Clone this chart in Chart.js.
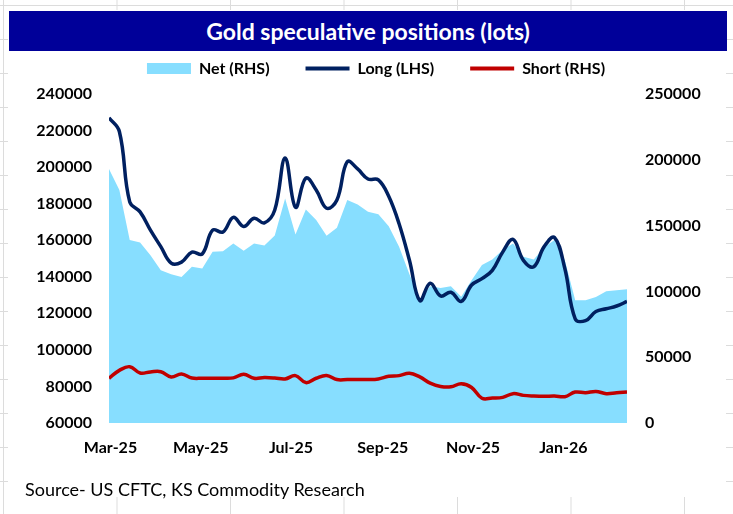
<!DOCTYPE html>
<html>
<head>
<meta charset="utf-8">
<script src="https://cdn.jsdelivr.net/npm/chart.js@4.4.1/dist/chart.umd.min.js"></script>
<style>
  html, body { margin: 0; padding: 0; }
  body {
    width: 733px; height: 514px; position: relative; overflow: hidden;
    background-color: #fff;
    background-image: linear-gradient(to right, #dcdcdc 1px, transparent 1px),
                      linear-gradient(to bottom, #dcdcdc 1px, transparent 1px);
    background-size: 113.5px 34px;
    background-position: 3px 5px;
  }
  #frame { position: absolute; left: 8px; top: 10px; width: 718px; height: 487px; background: #fff; }
  #wrap { position: absolute; left: 0; top: 0; width: 733px; height: 514px; }
  #banner {
    position: absolute; left: 9px; top: 11px; width: 718px; height: 40px;
    background: #000099; color: #fff; font: bold 23px Lato, sans-serif;
    display: flex; align-items: center; justify-content: center; z-index: 2;
  }
  #source { position: absolute; left: 25px; top: 478px; font: 18px Lato, sans-serif; color: #000; }
</style>
</head>
<body>
<div id="frame"></div>
<div id="wrap"><canvas id="goldChart" width="733" height="514"></canvas></div>
<div id="banner">Gold speculative positions (lots)</div>
<div id="source">Source- US CFTC, KS Commodity Research</div>
<script>
// weekly report dates
const dates = [
  '2025-02-28','2025-03-07','2025-03-14','2025-03-21','2025-03-28','2025-04-04','2025-04-11',
  '2025-04-18','2025-04-25','2025-05-02','2025-05-09','2025-05-16','2025-05-23','2025-05-30',
  '2025-06-06','2025-06-13','2025-06-20','2025-06-27','2025-07-04','2025-07-11','2025-07-18',
  '2025-07-25','2025-08-01','2025-08-08','2025-08-15','2025-08-22','2025-08-29','2025-09-05',
  '2025-09-12','2025-09-19','2025-09-26','2025-10-03','2025-10-10','2025-10-17','2025-10-24',
  '2025-10-31','2025-11-07','2025-11-14','2025-11-21','2025-11-28','2025-12-05','2025-12-12',
  '2025-12-19','2025-12-26','2026-01-02','2026-01-09','2026-01-16','2026-01-23','2026-01-30',
  '2026-02-06','2026-02-13'
];

// Net (RHS)
const netPos = [
  193000, 177000, 139000, 137200, 127500, 116100, 113100, 111000, 118700, 117400,
  130100, 130600, 136400, 130800, 136400, 134900, 142500, 170600, 143300, 162300,
  154200, 142200, 148300, 169400, 166000, 160500, 158700, 149600, 133900, 113000,
  93500, 104000, 102500, 104000, 96000, 108500, 120000, 124300, 131500, 136400,
  126300, 124300, 133500, 139000, 123700, 93300, 93300, 95800, 100200, 100900, 101700
];

// Long (LHS)
const longPos = [
  227000, 219500, 181000, 175500, 165500, 156500, 147500, 148000, 153500, 152500,
  165500, 164500, 172500, 167500, 172000, 169500, 176500, 205000, 178000, 194000,
  187500, 177500, 182000, 203000, 199000, 193500, 193000, 184000, 169000, 149000,
  127000, 136500, 129500, 131500, 126500, 135500, 139000, 143500, 153500, 160500,
  149000, 145500, 156500, 161500, 144500, 117000, 116000, 121000, 122500, 124000, 126500
];

// Short (RHS)
const shortPos = [
  34000, 40000, 42800, 38000, 38800, 39000, 35000, 37300, 34200, 34000,
  34000, 34000, 34300, 37000, 34000, 34500, 34200, 33500, 36000, 30700,
  34000, 36100, 33000, 33000, 33000, 33000, 33500, 35500, 36000, 37800,
  35000, 30300, 27800, 27500, 29800, 27000, 18800, 19000, 19500, 22300,
  21000, 20500, 20300, 20500, 20000, 23500, 23000, 24000, 22300, 23000, 23500
];

const tickDates = ['2025-03-01','2025-05-01','2025-07-01','2025-09-01','2025-11-01','2026-01-01'];
const tickLabels = ['Mar-25','May-25','Jul-25','Sep-25','Nov-25','Jan-26'];
const leftTicks = [60000, 80000, 100000, 120000, 140000, 160000, 180000, 200000, 220000, 240000];
const rightTicks = [0, 50000, 100000, 150000, 200000, 250000];

const NET_COLOR = '#87DEFF';
const LONG_COLOR = '#002060';
const SHORT_COLOR = '#C00000';

const day = d => (Date.parse(d) - Date.parse('2025-03-01')) / 86400000;
const pts = vals => dates.map((d, i) => ({ x: day(d), y: vals[i] }));
const tickFont = { family: 'Lato', size: 16, weight: 'bold' };

new Chart(document.getElementById('goldChart'), {
  type: 'line',
  data: {
    datasets: [
      {
        label: 'Net (RHS)',
        data: pts(netPos),
        yAxisID: 'y1',
        backgroundColor: NET_COLOR,
        borderColor: NET_COLOR,
        borderWidth: 0,
        fill: 'origin',
        tension: 0,
        order: 3
      },
      {
        label: 'Long (LHS)',
        data: pts(longPos),
        yAxisID: 'y',
        borderColor: LONG_COLOR,
        borderWidth: 3.5,
        fill: false,
        tension: 0.4,
        order: 1
      },
      {
        label: 'Short (RHS)',
        data: pts(shortPos),
        yAxisID: 'y1',
        borderColor: SHORT_COLOR,
        borderWidth: 3.5,
        fill: false,
        tension: 0.4,
        order: 2
      }
    ]
  },
  options: {
    responsive: false,
    animation: false,
    elements: { point: { radius: 0 } },
    layout: { padding: { top: 24.5, left: 30, right: 11, bottom: 0 } },
    scales: {
      x: {
        type: 'linear',
        position: 'bottom',
        min: day(dates[0]),
        max: day(dates[dates.length - 1]),
        grid: { display: false, drawTicks: false },
        border: { display: false },
        afterBuildTicks: s => { s.ticks = tickDates.map(d => ({ value: day(d) })); },
        afterFit: s => { s.height = 91; },
        ticks: {
          autoSkip: false,
          maxRotation: 0,
          padding: 15,
          color: '#000',
          font: tickFont,
          callback: v => tickLabels[tickDates.map(day).indexOf(v)] || ''
        }
      },
      xTop: {
        type: 'linear',
        position: 'top',
        display: true,
        grid: { display: false, drawTicks: false },
        border: { display: false },
        ticks: { display: false },
        afterFit: s => { s.height = 7.5; }
      },
      y: {
        position: 'left',
        min: leftTicks[0],
        max: leftTicks[leftTicks.length - 1],
        grid: { display: false, drawTicks: false },
        border: { display: false },
        afterBuildTicks: s => { s.ticks = leftTicks.map(v => ({ value: v })); },
        afterFit: s => { s.width = 79; },
        ticks: { padding: 17, color: '#000', font: tickFont, callback: v => String(v) }
      },
      y1: {
        position: 'right',
        min: rightTicks[0],
        max: rightTicks[rightTicks.length - 1],
        grid: { display: false, drawTicks: false },
        border: { display: false },
        afterBuildTicks: s => { s.ticks = rightTicks.map(v => ({ value: v })); },
        afterFit: s => { s.width = 95; },
        ticks: { padding: 18, color: '#000', font: tickFont, callback: v => String(v) }
      }
    },
    plugins: {
      tooltip: { enabled: false },
      legend: {
        display: true,
        position: 'top',
        labels: {
          usePointStyle: true,
          pointStyleWidth: 44,
          boxHeight: 11,
          padding: 36,
          color: '#000',
          font: { family: 'Lato', size: 16, weight: 'bold' },
          generateLabels: chart => chart.data.datasets.map((ds, i) => ({
            text: ds.label,
            datasetIndex: i,
            hidden: false,
            fontColor: '#000',
            pointStyle: i === 0 ? 'rect' : 'line',
            fillStyle: i === 0 ? NET_COLOR : ds.borderColor,
            strokeStyle: i === 0 ? NET_COLOR : ds.borderColor,
            lineWidth: i === 0 ? 0 : 4
          }))
        }
      }
    }
  }
});
</script>
</body>
</html>
